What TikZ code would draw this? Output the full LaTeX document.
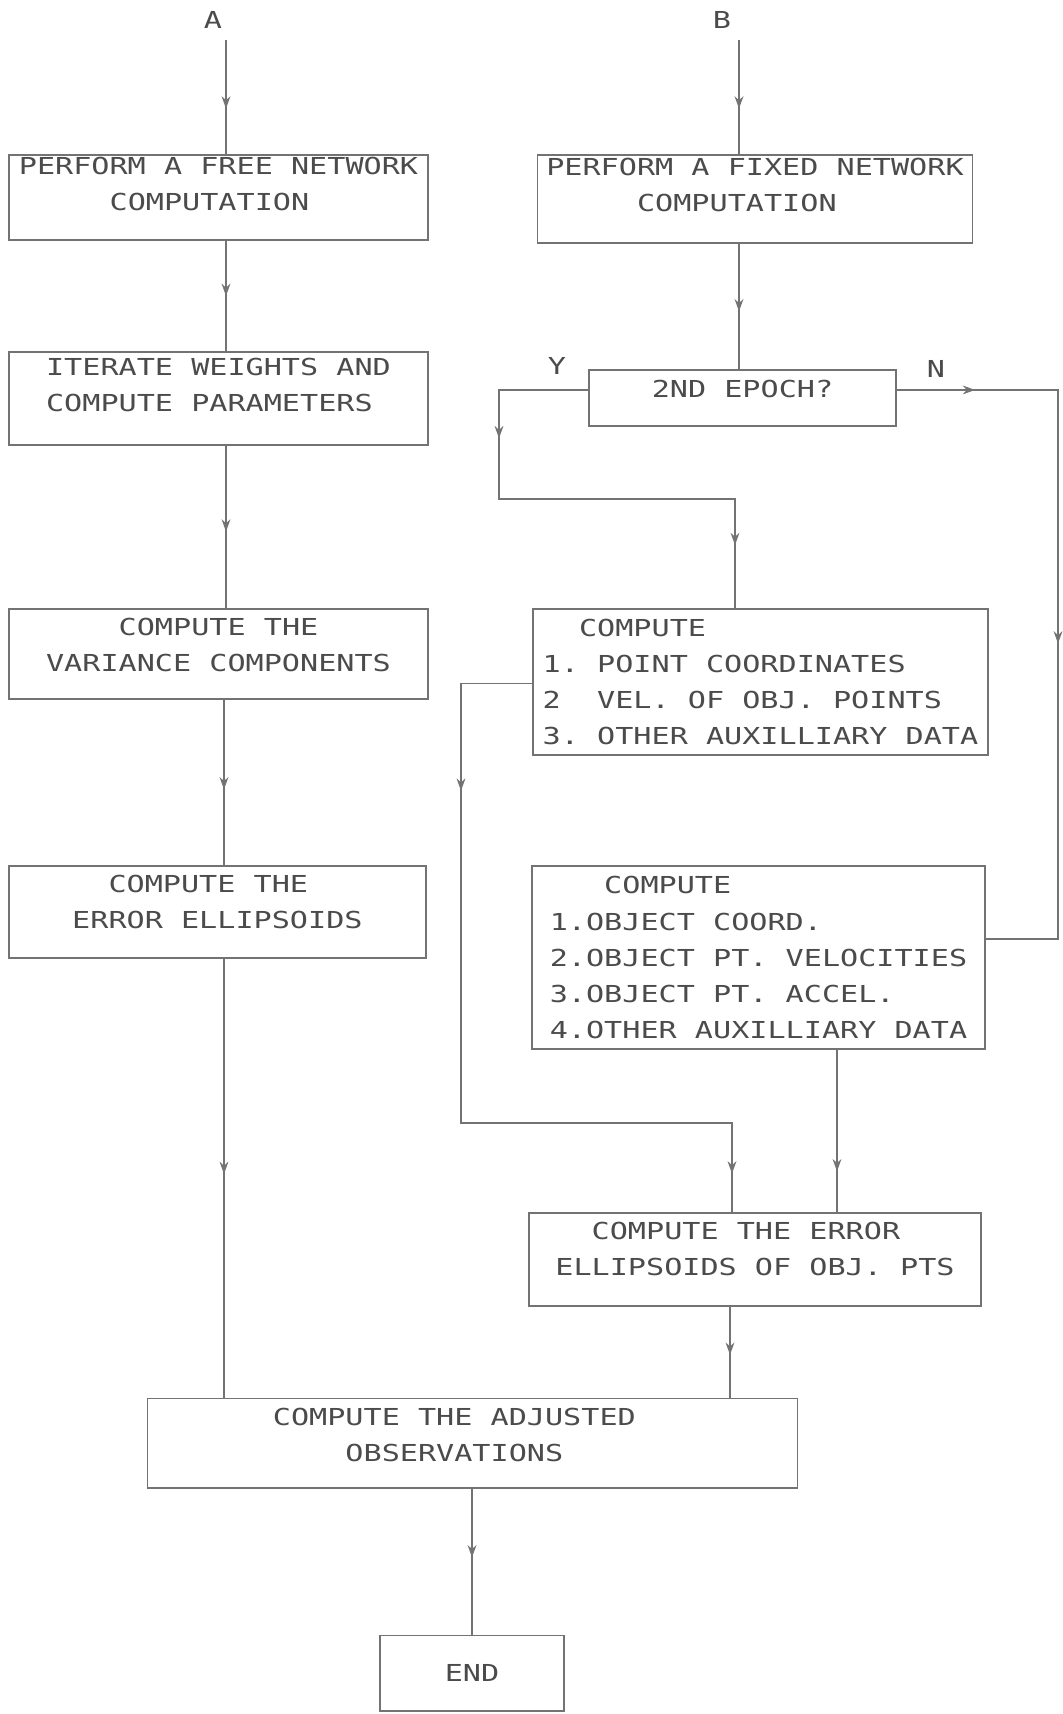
\documentclass[tikz,border=0pt]{standalone}
\usepackage{fontspec}
\newfontfamily\plotfont[FakeStretch=1.29]{DejaVu Sans Mono}
\usetikzlibrary{arrows.meta,calc,decorations.markings,positioning}
\definecolor{inkgray}{RGB}{75,75,75}
\definecolor{linegray}{RGB}{115,115,115}
\newcommand\sk{\hphantom{0}}
\newcommand\tail[1][10pt]{\rule[-#1]{0pt}{#1}}
\newcommand\monospace{\frenchspacing\fontdimen2\font=\fontcharwd\font`0\relax
  \fontdimen3\font=0pt\relax\fontdimen4\font=0pt\relax\fontdimen7\font=0pt\relax}

\begin{document}
\begin{tikzpicture}[x=0.02cm,y=-0.02cm,
      box/.style={draw=linegray,line width=1pt,inner sep=0pt,align=left,text=inkgray,
        font=\plotfont\fontsize{13.3pt}{20.5pt}\selectfont\monospace},
      lbl/.style={text=inkgray,inner sep=1pt,font=\plotfont\fontsize{13.3pt}{16pt}\selectfont},
      flow/.style={draw=linegray,line width=1pt},
      tipat/.style={postaction={decorate,decoration={markings,
        mark=at position #1 with {\arrow{Stealth[length=7pt,width=5pt]}}}}}]
      \fill[white] (0,0) rectangle (1062,1714);
      \useasboundingbox (0,0) rectangle (1062,1714);
      \node[lbl] (labA) at (213,20) {A};
      \node[lbl] (labB) at (722,20) {B};
      \node[box,minimum width=8.39cm,minimum height=1.70cm] (free) at (218.5,197.7)
        {PERFORM A FREE NETWORK\\\sk\sk\sk\sk\sk COMPUTATION\tail[16pt]};
      \node[box,minimum width=8.70cm,minimum height=1.75cm] (fixed) at (755,199)
        {PERFORM A FIXED NETWORK\\\sk\sk\sk\sk\sk COMPUTATION\tail[16pt]};
      \node[box,minimum width=8.39cm,minimum height=1.86cm] (iter) at (218.5,398.2)
        {ITERATE WEIGHTS AND\\COMPUTE PARAMETERS\tail[15pt]};
      \node[box,minimum width=6.14cm,minimum height=1.12cm] (epoch) at (742.5,398) {2ND EPOCH?\tail};
      \node[lbl] (labY) at (557,366) {Y};
      \node[lbl] (labN) at (936,369) {N};
      \node[box,minimum width=8.39cm,minimum height=1.81cm] (varcomp) at (218.5,654)
        {\sk\sk\sk\sk COMPUTE THE\\VARIANCE COMPONENTS\tail};
      \node[box,minimum width=9.10cm,minimum height=2.92cm] (pts) at (760.5,682)
        {\sk\sk COMPUTE\\1. POINT COORDINATES\\2\sk\ VEL. OF OBJ. POINTS\\3. OTHER AUXILLIARY DATA};
      \node[box,minimum width=8.34cm,minimum height=1.84cm] (errell) at (217.4,912.3)
        {\sk\sk COMPUTE THE\\ERROR ELLIPSOIDS\tail[12pt]};
      \node[box,minimum width=9.06cm,minimum height=3.66cm] (objs) at (758.5,957.5)
        {\sk\sk\sk COMPUTE\\1.OBJECT COORD.\\2.OBJECT PT. VELOCITIES\\3.OBJECT PT. ACCEL.\\4.OTHER AUXILLIARY DATA};
      \node[box,minimum width=9.04cm,minimum height=1.86cm] (errobj) at (755,1259.2)
        {\sk\sk COMPUTE THE ERROR\\ELLIPSOIDS OF OBJ. PTS\tail[12pt]};
      \node[box,minimum width=13.0cm,minimum height=1.79cm] (adjobs) at (472.5,1443.2)
        {COMPUTE THE ADJUSTED\sk\sk\\\sk\sk\sk\sk OBSERVATIONS\tail};
      \node[box,minimum width=3.68cm,minimum height=1.51cm,align=center] (finish) at (472,1673.3) {END};
      \coordinate (inA) at (226,40);
      \coordinate (inB) at (739,40);
      \coordinate (colA) at (224,0);
      \coordinate (ocol) at (837,0);
      \coordinate (ecol) at (730,0);
      \coordinate (ycol) at (499,499);
      \coordinate (ybend) at (735,499);
      \coordinate (ncol) at (1058,390);
      \coordinate (lcol) at (461,1123);
      \coordinate (lbend) at (732,1123);
      \draw[flow,tipat=.6] (inA) -- (inA |- free.north);
      \draw[flow,tipat=.6] (inB) -- (inB |- fixed.north);
      \draw[flow,tipat=.5] (inA |- free.south) -- (inA |- iter.north);
      \draw[flow,tipat=.54] (inB |- fixed.south) -- (inB |- epoch.north);
      \draw[flow,tipat=.53] (inA |- iter.south) -- (inA |- varcomp.north);
      \draw[flow,tipat=.54] (colA |- varcomp.south) -- (colA |- errell.north);
      \draw[flow,tipat=.49] (colA |- errell.south) -- (colA |- adjobs.north);
      \draw[flow,tipat=.253,tipat=.884] ($(epoch.north west)!.36!(epoch.south west)$) -| (ycol) -- (ybend) -- (ybend |- pts.north);
      \draw[flow,tipat=.1,tipat=.53] ($(epoch.north east)!.36!(epoch.south east)$) -- (ncol) |- ($(objs.north east)!.4!(objs.south east)$);
      \draw[flow,tipat=.205,tipat=.956] ($(pts.north west)!.51!(pts.south west)$) -| (lcol) -- (lbend) -- (lbend |- errobj.north);
      \draw[flow,tipat=.75] (ocol |- objs.south) -- (ocol |- errobj.north);
      \draw[flow,tipat=.53] (ecol |- errobj.south) -- (ecol |- adjobs.north);
      \draw[flow,tipat=.47] (finish.north |- adjobs.south) -- (finish.north);
    \end{tikzpicture}
\end{document}
